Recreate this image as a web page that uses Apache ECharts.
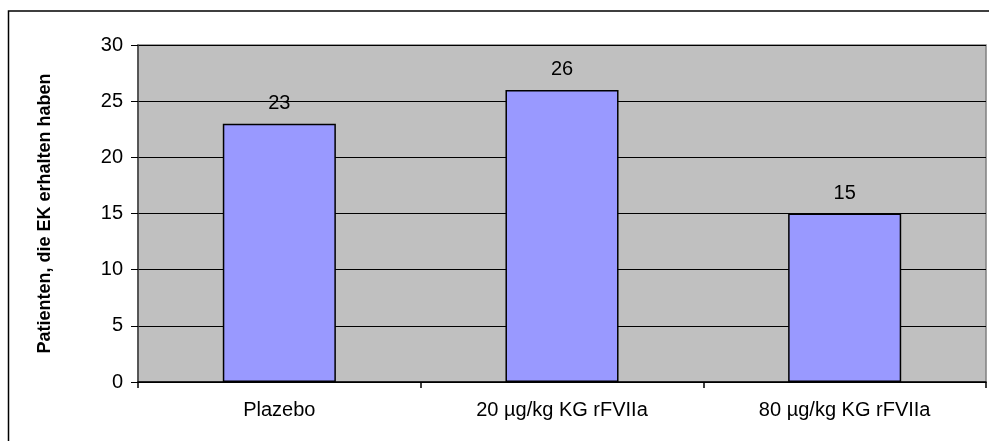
<!DOCTYPE html>
<html>
<head>
<meta charset="utf-8">
<style>
  html, body { margin: 0; padding: 0; background: #ffffff; }
  #chart { width: 989px; height: 441px; }
</style>
<script src="https://cdn.jsdelivr.net/npm/echarts@6/dist/echarts.min.js"></script>
</head>
<body>
<div id="chart"></div>
<script>
// Patients who received red cell concentrates (EK), by treatment arm
const categories = ['Plazebo', '20 µg/kg KG rFVIIa', '80 µg/kg KG rFVIIa'];
const patients = [23, 26, 15];
const yTicks = [0, 5, 10, 15, 20, 25, 30];

const FONT = '"Liberation Sans", Arial, sans-serif';

const chart = echarts.init(document.getElementById('chart'), null, { renderer: 'canvas' });

chart.setOption({
  animation: false,
  backgroundColor: '#ffffff',
  textStyle: { fontFamily: FONT },
  graphic: [{
    type: 'rect',
    shape: { x: 8.5, y: 11, width: 1100, height: 600 },
    style: { fill: 'none', stroke: '#000000', lineWidth: 1.5 },
    silent: true,
    z: 100
  }],
  grid: {
    left: 138, right: 3, top: 45, bottom: 59,
    show: true,
    backgroundColor: '#C0C0C0',
    borderColor: '#808080',
    borderWidth: 1.5
  },
  xAxis: {
    type: 'category',
    data: categories,
    axisLine: { show: true, lineStyle: { color: '#000000', width: 1.5 } },
    axisTick: { show: true, length: 6, lineStyle: { color: '#000000', width: 1.5 } },
    axisLabel: { color: '#000000', fontSize: 20, fontFamily: FONT, margin: 18 },
    splitLine: { show: false }
  },
  yAxis: {
    type: 'value',
    min: yTicks[0],
    max: yTicks[yTicks.length - 1],
    interval: yTicks[1] - yTicks[0],
    name: 'Patienten, die EK erhalten haben',
    nameLocation: 'middle',
    nameGap: 84,
    nameTextStyle: { color: '#000000', fontSize: 18, fontWeight: 'bold', fontFamily: FONT },
    axisLine: { show: true, lineStyle: { color: '#404040', width: 1.5 } },
    axisTick: { show: true, length: 7, lineStyle: { color: '#000000', width: 1 } },
    axisLabel: { color: '#000000', fontSize: 20, fontFamily: FONT, margin: 15 },
    splitLine: { show: true, lineStyle: { color: '#000000', width: 1 } }
  },
  series: [{
    type: 'bar',
    data: patients,
    barWidth: '40%',
    itemStyle: { color: '#9999FF', borderColor: '#000000', borderWidth: 1.5 },
    label: {
      show: true,
      position: 'top',
      distance: 10,
      color: '#000000',
      fontSize: 20,
      fontFamily: FONT
    }
  }]
});
</script>
</body>
</html>
